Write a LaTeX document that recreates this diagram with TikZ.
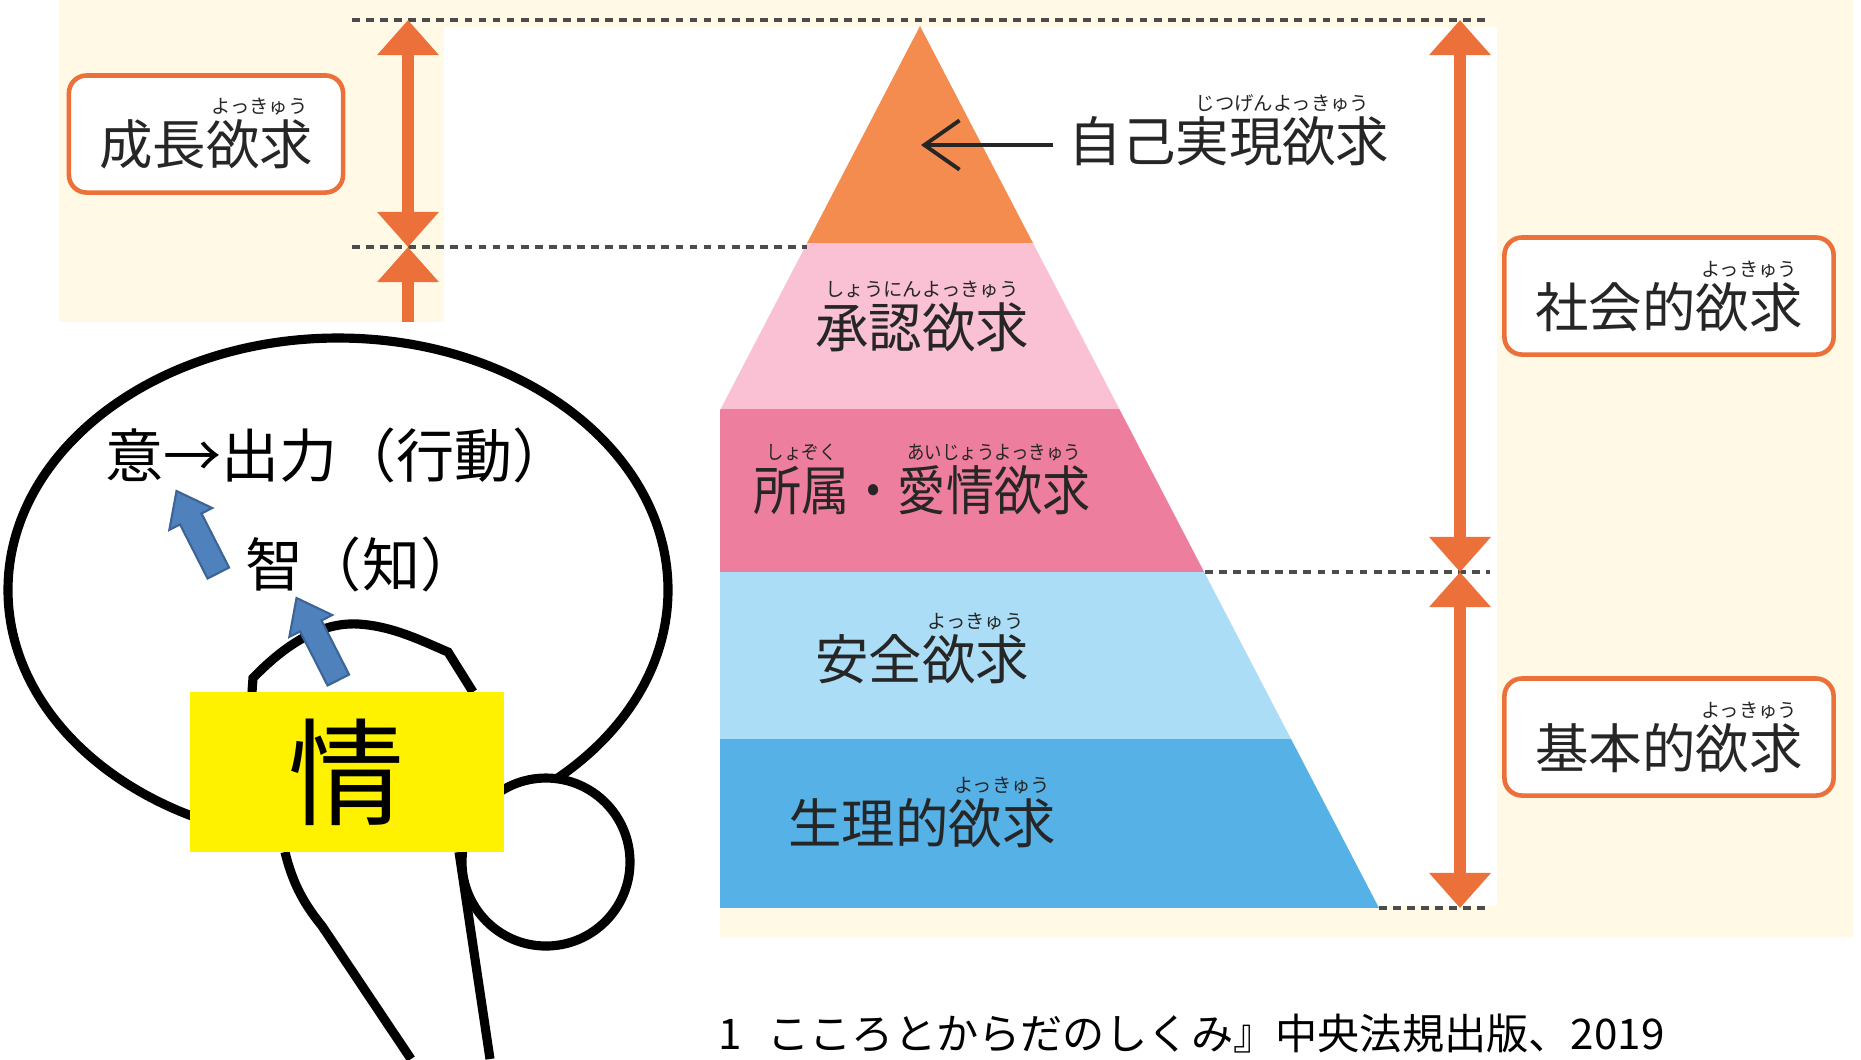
\documentclass[tikz,border=0pt]{standalone}
\usepackage{fontspec}
\setmainfont{Noto Sans CJK JP}
\newfontfamily\tightjp[FakeStretch=0.9]{Noto Sans CJK JP}
\usetikzlibrary{arrows.meta,shapes.arrows}

\definecolor{cream}{RGB}{255,249,230}
\definecolor{tagorange}{RGB}{236,112,58}
\definecolor{lvlfive}{RGB}{244,140,80}
\definecolor{lvlfour}{RGB}{249,193,211}
\definecolor{lvlthree}{RGB}{238,126,158}
\definecolor{lvltwo}{RGB}{172,221,246}
\definecolor{lvlone}{RGB}{86,178,230}
\definecolor{ideablue}{RGB}{79,129,189}
\definecolor{ideaedge}{RGB}{60,100,150}

% reading in small kana above a word
\newcommand{\yomi}{\fontsize{5.5}{6}\selectfont}
\newcommand{\furi}[2]{\ooalign{\hfil\raisebox{14.5pt}{\yomi #2}\hfil\cr #1\cr}}

\tikzstyle{tierlabel}=[font=\fontsize{15.2}{18}\selectfont, text=black!85,
                       anchor=base, inner sep=0]
\tikzstyle{needbox}=[rectangle, draw=tagorange, line width=1.3pt, fill=white,
                     rounded corners=5pt, minimum width=3.29cm, minimum height=1.17cm,
                     font=\fontsize{15.2}{18}\selectfont, text=black!85, inner sep=0]
\tikzstyle{guide}=[black!70, line width=0.9pt, dash pattern=on 2.2pt off 1.8pt]
\tikzstyle{spanarrow}=[tagorange, line width=3.2pt,
                       {Triangle[width=17pt,length=10pt]}-{Triangle[width=17pt,length=10pt]}]
\tikzstyle{spanhalf}=[tagorange, line width=3.2pt, -{Triangle[width=17pt,length=10pt]}]
\tikzstyle{pointer}=[black!85, line width=1.1pt, -{Straight Barb[length=10pt,width=14pt]}]
\tikzstyle{headline}=[black, line width=2.6pt]
\tikzstyle{mind}=[font=\fontsize{16.5}{20}\selectfont, anchor=base, inner sep=0]
\tikzstyle{ideaarrow}=[single arrow, draw=ideaedge, fill=ideablue, line width=0.6pt,
                       minimum height=0.92cm, inner xsep=0, inner ysep=0.11cm,
                       single arrow head extend=0.12cm, single arrow tip angle=75,
                       rotate=117]

\begin{document}
\begin{tikzpicture}[x=0.01cm, y=-0.01cm]
  \useasboundingbox (0,0) rectangle (1861,1059);

  % scanned chart background
  \fill[cream] (59,0) rectangle (1853,937);
  \fill[white] (444,27) rectangle (1497,906);
  \fill[white] (0,322) rectangle (720,1059);

  % pyramid tiers, cut on the left
  \begin{scope}
    \clip (720,0) rectangle (1861,1059);
    \clip (920,26) -- (1379,908) -- (461,908) -- cycle;
    \foreach \ya/\yb/\tier in {26/243/lvlfive, 243/409/lvlfour, 409/572/lvlthree,
                               572/739/lvltwo, 739/908/lvlone}
      \fill[\tier] (450,\ya) rectangle (1400,\yb);
  \end{scope}

  % dotted guide lines
  \foreach \y/\xa/\xb in {20/352/1490, 247/352/807, 572/1205/1490, 908/1379/1490}
    \draw[guide] (\xa,\y) -- (\xb,\y);

  % range arrows
  \coordinate (growthtop) at (408,20);
  \coordinate (growthlow) at (408,247);
  \coordinate (growthcut) at (408,322);
  \coordinate (needtop) at (1460,20);
  \coordinate (needmid) at (1460,572);
  \coordinate (needlow) at (1460,908);
  \draw[spanarrow] (growthtop) -- (growthlow);
  \draw[spanhalf] (growthcut) -- (growthlow);
  \draw[spanarrow] (needtop) -- (needmid);
  \draw[spanarrow] (needmid) -- (needlow);

  % group tags
  \node (growth) at (206,134) [needbox, minimum width=2.74cm] {成長\furi{欲求}{よっきゅう}};
  \node (social) at (1669,296) [needbox] {社会的\furi{欲求}{よっきゅう}};
  \node (basic) at (1669,737) [needbox] {基本的\furi{欲求}{よっきゅう}};

  % tier names
  \node (selfact) at (1053,161) [tierlabel, anchor=base west, inner xsep=0.15cm]
        {自己\furi{実現欲求}{じつげんよっきゅう}};
  \coordinate (apextip) at (921,145);
  \draw[pointer] (selfact.west |- apextip) -- (apextip);

  \node (esteem) at (922,347) [tierlabel] {\furi{承認欲求}{しょうにんよっきゅう}};
  \node (belong) at (922,510) [tierlabel, font=\tightjp\fontsize{15.2}{18}\selectfont]
        {\furi{所属}{しょぞく}・\furi{愛情欲求}{あいじょうよっきゅう}};
  \node (safety) at (922,679) [tierlabel] {安全\furi{欲求}{よっきゅう}};
  \node (physio) at (922,843) [tierlabel] {生理的\furi{欲求}{よっきゅう}};

  %%%%%%%%%%%%%%%%%%%%%%%%%%%%%%
  % head
  \draw[headline] (338,590) ellipse [x radius=330, y radius=252];
  \draw[headline] (252,692) -- (253,678) .. controls (285,645) and (320,622) .. (358,624)
                  .. controls (392,626) and (420,640) .. (448,652) -- (473,692);
  \draw[headline, fill=white] (546,862) circle [radius=84];
  \draw[headline] (285,852) .. controls (293,885) and (305,905) .. (322,926) -- (411,1059);
  \draw[headline] (459,852) -- (490,1059);

  \node (feel) at (347,772) [fill=yellow, minimum width=3.14cm, minimum height=1.6cm,
                             inner sep=0, font=\fontsize{33}{36}\selectfont] {情};
  \node (know) at (362,586) [mind] {智（知）};
  \node (will) at (338,477) [mind] {意→出力（行動）};
  \node (feelup) at (321,646) [ideaarrow] {};
  \node (knowup) at (201,539) [ideaarrow] {};

  % source note
  \node (source) at (718,1049) [anchor=base west, inner sep=0, font=\fontsize{12}{14}\selectfont]
        {1\hspace{0.6em}こころとからだのしくみ』中央法規出版、2019};

\end{tikzpicture}
\end{document}
